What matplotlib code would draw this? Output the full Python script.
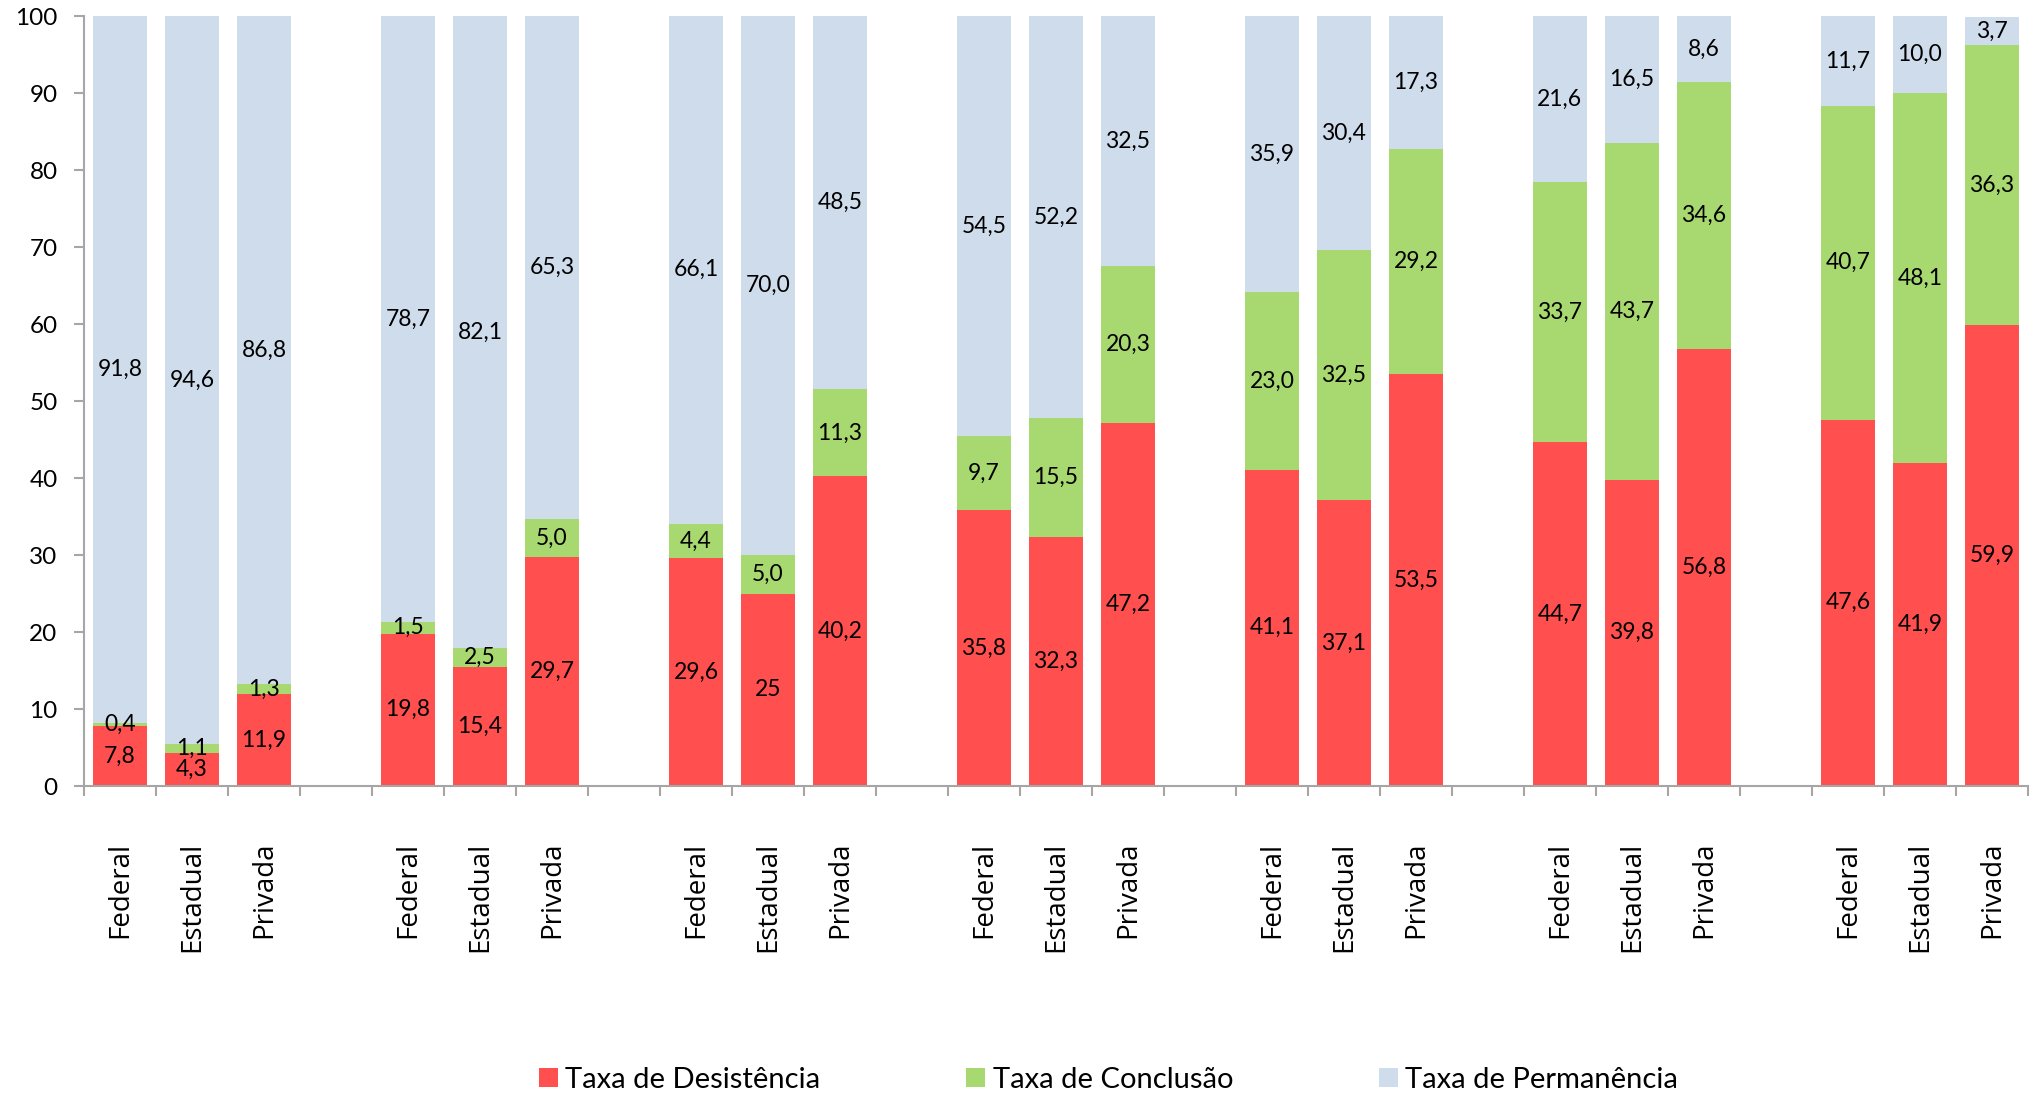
import matplotlib.pyplot as plt
import numpy as np
from matplotlib.ticker import FixedLocator

# values as printed in the chart (Brazilian decimal comma)
groups = 7
types = ["Federal", "Estadual", "Privada"]

desist = ["7,8", "4,3", "11,9",
          "19,8", "15,4", "29,7",
          "29,6", "25", "40,2",
          "35,8", "32,3", "47,2",
          "41,1", "37,1", "53,5",
          "44,7", "39,8", "56,8",
          "47,6", "41,9", "59,9"]
conclu = ["0,4", "1,1", "1,3",
          "1,5", "2,5", "5,0",
          "4,4", "5,0", "11,3",
          "9,7", "15,5", "20,3",
          "23,0", "32,5", "29,2",
          "33,7", "43,7", "34,6",
          "40,7", "48,1", "36,3"]
perman = ["91,8", "94,6", "86,8",
          "78,7", "82,1", "65,3",
          "66,1", "70,0", "48,5",
          "54,5", "52,2", "32,5",
          "35,9", "30,4", "17,3",
          "21,6", "16,5", "8,6",
          "11,7", "10,0", "3,7"]

series_names = ["Taxa de Desistência", "Taxa de Conclusão", "Taxa de Permanência"]
colors = ["#FF4F4F", "#A8D870", "#CFDCEB"]


def to_num(lst):
    return np.array([float(s.replace(",", ".")) for s in lst])


series_txt = [desist, conclu, perman]
series_val = [to_num(s) for s in series_txt]

# positions: 3 bars per group, one empty slot between groups
xpos = np.array([g * 4 + i for g in range(groups) for i in range(3)], dtype=float)
labels = types * groups

fig = plt.figure(figsize=(20.34, 11.04), dpi=100)
ax = fig.add_axes([0.0413, 0.288, 0.9557, 0.6975])

bottom = np.zeros(len(xpos))
handles = []
for vals, txt, col, name in zip(series_val, series_txt, colors, series_names):
    bars = ax.bar(xpos, vals, width=0.76, bottom=bottom, color=col, label=name,
                  edgecolor="none", zorder=2)
    handles.append(bars)
    for x, b, v, t in zip(xpos, bottom, vals, txt):
        ax.text(x, b + v / 2, t, ha="center", va="center", fontsize=16.5,
                family="Lato", color="black", zorder=3)
    bottom = bottom + vals

ax.set_xlim(-0.5, xpos[-1] + 0.5)
ax.set_ylim(0, 100)
ax.set_yticks(np.arange(0, 101, 10))

ax.set_xticks(xpos)
ax.set_xticklabels(labels, rotation=90, va="top", fontsize=20, family="Open Sans")
ax.xaxis.set_minor_locator(FixedLocator(np.arange(-0.5, xpos[-1] + 1, 1.0)))
ax.tick_params(axis="x", which="major", length=0, pad=40)
ax.tick_params(axis="x", which="minor", length=7, width=1.5, color="#A6A6A6", direction="out")
ax.tick_params(axis="y", length=7, width=1.5, color="#A6A6A6", pad=12, labelsize=17.5)
for lab in ax.get_yticklabels():
    lab.set_family("Lato")

for side in ["top", "right"]:
    ax.spines[side].set_visible(False)
for side in ["left", "bottom"]:
    ax.spines[side].set_color("#A6A6A6")
    ax.spines[side].set_linewidth(1.5)

fig.legend(handles=handles, labels=series_names, loc="center",
           bbox_to_anchor=(0.545, 0.022), ncol=3, frameon=False,
           handlelength=0.65, handleheight=0.65, handletextpad=0.25,
           columnspacing=5.0, prop={"family": "Lato", "size": 21})

fig.savefig("out.png", dpi=100)
